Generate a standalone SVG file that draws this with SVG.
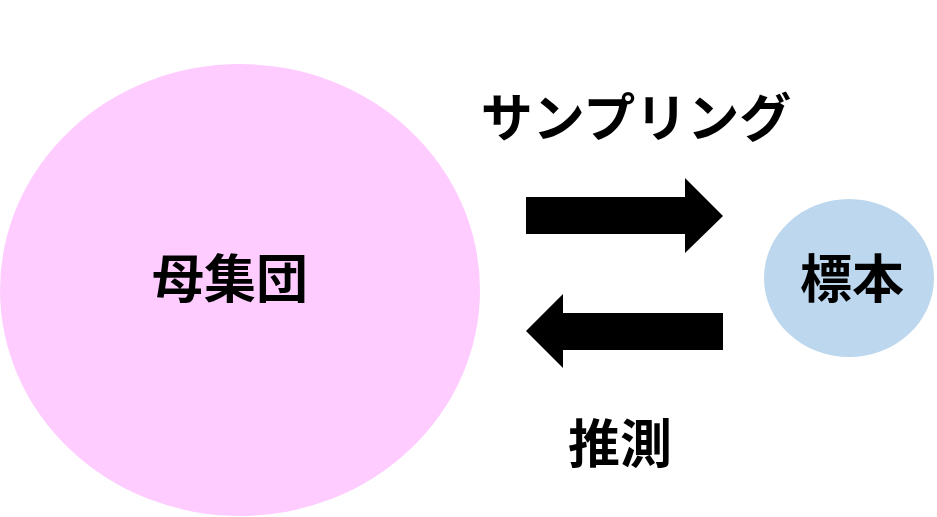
<svg xmlns="http://www.w3.org/2000/svg" width="937" height="517" viewBox="0 0 937 517">
<style>
text{font-family:"Noto Sans CJK JP","Noto Sans CJK SC",sans-serif;font-weight:bold;font-size:52px;fill:#000;text-anchor:middle}
.arrow{fill:#000}
</style>
<rect width="937" height="517" fill="#fff"/>
<g id="population">
<ellipse cx="240" cy="290" rx="240" ry="226" fill="#FFCCFF"/>
<text x="230" y="298">母集団</text>
</g>
<g id="sample">
<ellipse cx="849" cy="278" rx="85" ry="79" fill="#BDD7EE"/>
<text x="852" y="298">標本</text>
</g>
<g id="connectors">
<polygon class="arrow" points="526,197 685,197 685,178 723,216 685,253 685,234 526,234"/>
<polygon class="arrow" points="723,313 563,313 563,294 526,331 563,368 563,350 723,350"/>
</g>
<g id="labels">
<text x="636" y="137">サンプリング</text>
<text x="620" y="463">推測</text>
</g>
</svg>
